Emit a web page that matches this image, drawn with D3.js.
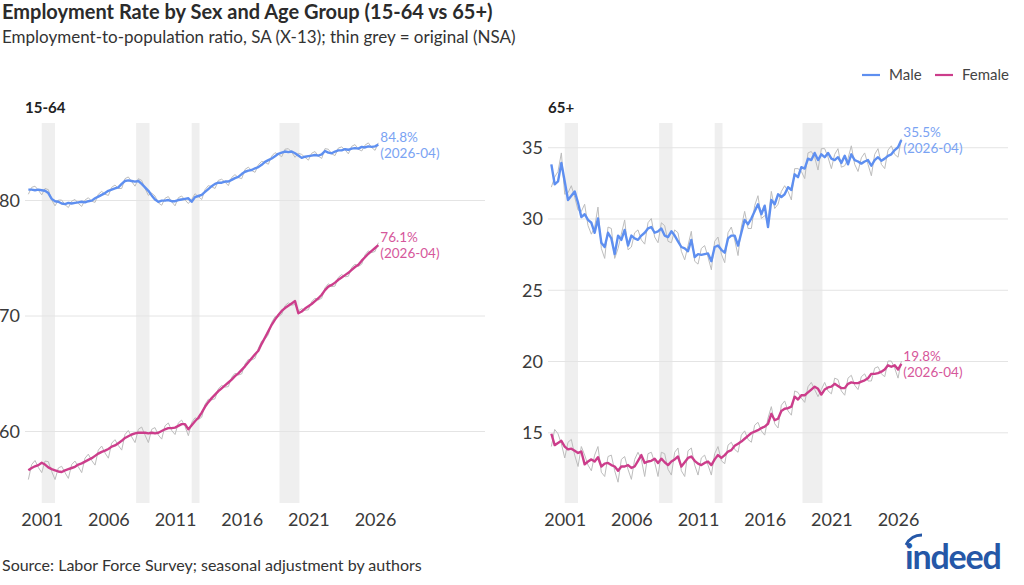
<!DOCTYPE html>
<html>
<head>
<meta charset="utf-8">
<script src="https://cdn.jsdelivr.net/npm/d3@7"></script>
<style>
  body { margin: 0; background: #fff; }
  svg text { font-family: Lato, "Open Sans", sans-serif; }
  .grid line { stroke: #e4e4e4; }
  .axis text { fill: #3a3a3a; font-size: 18px; }
</style>
</head>
<body>
<div class="chart-container"></div>
<script>
// quarterly samples, 2000-01 .. 2026-04
const start_month = '2000-01';
const n_points = 106;

// 15-64
const male_1564_sa = [
  80.9, 80.9, 80.85, 80.9, 80.85, 80.8, 80.6, 80.1, 79.9, 79.85, 79.7, 79.65,
  79.75, 79.7, 79.75, 79.8, 79.85, 79.8, 79.9, 79.95, 80.15, 80.3, 80.45, 80.6,
  80.8, 80.9, 81.0, 81.1, 81.4, 81.65, 81.7, 81.65, 81.6, 81.65, 81.4, 81.1,
  80.8, 80.4, 80.05, 79.85, 79.95, 79.95, 80.0, 79.9, 79.9, 80.0, 80.05, 80.1,
  80.15, 79.85, 80.25, 80.35, 80.45, 80.7, 80.95, 81.2, 81.4, 81.5, 81.5, 81.6,
  81.6, 81.75, 81.9, 82.0, 82.25, 82.45, 82.55, 82.6, 82.75, 82.85, 83.05, 83.3,
  83.45, 83.6, 83.8, 84.0, 84.1, 84.2, 84.15, 84.2, 84.05, 83.85, 83.65, 83.75,
  83.8, 83.85, 83.9, 83.85, 83.95, 84.25, 84.1, 84.05, 84.2, 84.3, 84.3, 84.4,
  84.35, 84.45, 84.5, 84.45, 84.6, 84.55, 84.65, 84.6, 84.65, 84.8
];
const male_1564_nsa = [
  80.5, 81.1, 81.2, 80.85, 80.45, 81.0, 80.9, 80.0, 79.5, 80.0, 80.0, 79.6,
  79.35, 79.9, 80.05, 79.7, 79.45, 80.0, 80.2, 79.9, 79.8, 80.5, 80.75, 80.5,
  80.4, 81.1, 81.3, 81.0, 81.0, 81.85, 82.0, 81.6, 81.2, 81.85, 81.7, 81.0,
  80.4, 80.6, 80.35, 79.75, 79.55, 80.15, 80.3, 79.85, 79.5, 80.2, 80.35, 80.0,
  79.7, 80.05, 80.55, 80.3, 80.05, 80.9, 81.25, 81.15, 81.0, 81.7, 81.8, 81.55,
  81.25, 81.95, 82.2, 81.95, 81.85, 82.65, 82.85, 82.55, 82.4, 83.05, 83.35, 83.25,
  83.1, 83.8, 84.1, 83.95, 83.75, 84.4, 84.45, 84.15, 83.7, 84.05, 83.95, 83.7,
  83.45, 84.05, 84.2, 83.8, 83.6, 84.45, 84.4, 84.0, 83.85, 84.5, 84.6, 84.35,
  84.0, 84.65, 84.8, 84.4, 84.25, 84.75, 84.95, 84.55, 84.3, 84.95
];
const female_1564_sa = [
  56.6, 56.8, 56.95, 57.05, 57.25, 57.1, 56.85, 56.7, 56.6, 56.5, 56.45, 56.6,
  56.7, 56.8, 56.9, 57.1, 57.2, 57.35, 57.5, 57.65, 57.85, 58.05, 58.2, 58.3,
  58.45, 58.65, 58.75, 58.95, 59.15, 59.4, 59.55, 59.7, 59.8, 59.85, 59.85, 59.85,
  59.8, 59.85, 59.8, 59.85, 60.0, 60.15, 60.25, 60.25, 60.3, 60.45, 60.6, 60.6,
  60.15, 60.5, 60.85, 61.15, 61.6, 62.1, 62.5, 62.85, 63.15, 63.45, 63.7, 63.95,
  64.2, 64.45, 64.75, 65.0, 65.3, 65.6, 65.95, 66.3, 66.65, 66.95, 67.55, 68.1,
  68.65, 69.2, 69.65, 70.05, 70.4, 70.65, 70.85, 71.05, 71.25, 70.2, 70.35, 70.6,
  70.8, 71.0, 71.25, 71.5, 71.8, 72.2, 72.5, 72.65, 72.85, 73.1, 73.3, 73.5,
  73.7, 73.95, 74.2, 74.4, 74.75, 75.05, 75.35, 75.6, 75.85, 76.1
];
const female_1564_nsa = [
  55.8, 57.1, 57.45, 56.85, 56.4, 57.4, 57.35, 56.5, 55.8, 56.8, 56.95, 56.4,
  55.9, 57.1, 57.4, 56.9, 56.4, 57.65, 58.0, 57.45, 57.05, 58.35, 58.7, 58.1,
  57.65, 58.95, 59.25, 58.75, 58.35, 59.7, 60.05, 59.5, 59.0, 60.15, 60.35, 59.65,
  59.0, 60.15, 60.3, 59.65, 59.3, 60.45, 60.7, 60.05, 59.7, 60.7, 60.95, 60.4,
  59.6, 60.75, 61.15, 61.0, 61.2, 62.3, 62.75, 62.7, 62.8, 63.65, 63.95, 63.8,
  63.85, 64.65, 65.0, 64.85, 64.95, 65.8, 66.2, 66.15, 66.3, 67.15, 67.8, 67.95,
  68.35, 69.4, 69.9, 69.9, 70.1, 70.85, 71.1, 70.9, 70.95, 70.4, 70.6, 70.45,
  70.5, 71.2, 71.5, 71.35, 71.5, 72.4, 72.75, 72.5, 72.55, 73.3, 73.55, 73.35,
  73.4, 74.15, 74.45, 74.25, 74.45, 75.25, 75.6, 75.45, 75.55, 76.3
];

// 65+
const male_65_sa = [
  33.8, 32.4, 32.6, 33.9, 32.6, 31.3, 31.6, 31.9, 31.1, 30.1, 30.3, 29.9,
  29.7, 29.0, 30.0, 28.3, 28.0, 29.0, 28.6, 27.5, 28.8, 28.5, 29.2, 28.1,
  28.8, 28.6, 28.5, 28.8, 29.0, 29.3, 29.4, 29.0, 29.1, 29.3, 28.8, 28.7,
  29.1, 28.8, 28.4, 28.0, 27.9, 27.7, 28.5, 27.3, 27.5, 27.45, 27.5, 27.55,
  27.0, 28.0, 28.1, 27.8, 27.6, 28.6, 28.8, 28.8, 28.1, 29.0, 29.9, 29.6,
  30.0, 30.5, 31.0, 30.3, 30.9, 29.4, 31.3, 31.0, 31.7, 31.5, 31.7, 32.2,
  32.0, 33.1, 32.9, 33.6, 33.5, 34.2, 34.1, 34.6, 34.1, 34.5, 34.3, 34.6,
  34.2, 34.1, 34.3, 33.9, 34.4, 33.8, 34.5, 34.1, 34.0, 33.85, 34.0, 34.1,
  33.7, 34.1, 34.3, 34.05, 34.2, 34.4, 34.5, 34.8, 35.0, 35.5
];
const male_65_nsa = [
  32.2, 32.9, 33.3, 34.6, 31.7, 31.8, 32.3, 31.5, 30.6, 30.5, 31.0, 29.5,
  28.9, 29.4, 30.8, 27.9, 27.2, 29.4, 29.3, 27.2, 27.9, 28.9, 29.9, 27.8,
  28.0, 29.0, 29.2, 28.5, 28.2, 29.7, 30.0, 28.7, 28.3, 29.7, 29.5, 28.4,
  28.3, 29.2, 29.0, 27.7, 27.1, 28.1, 29.1, 27.0, 26.8, 27.9, 28.1, 27.3,
  26.4, 28.4, 28.7, 27.5, 26.9, 29.0, 29.4, 28.5, 27.4, 29.4, 30.5, 29.3,
  29.3, 30.9, 31.6, 30.0, 30.2, 29.8, 31.9, 30.7, 31.0, 31.9, 32.3, 31.9,
  31.3, 33.5, 33.5, 33.3, 32.8, 34.6, 34.7, 34.3, 33.4, 34.9, 34.9, 34.3,
  33.5, 34.5, 34.9, 33.6, 33.7, 34.2, 35.1, 33.8, 33.3, 34.25, 34.6, 33.8,
  33.0, 34.5, 34.9, 33.8, 33.5, 34.8, 35.1, 34.5, 34.3, 35.6
];
const female_65_sa = [
  14.9, 14.1, 14.25, 14.4, 14.0, 13.8, 13.85, 13.7, 13.55, 13.65, 12.75, 12.95,
  13.1, 12.95, 13.25, 12.6, 12.8, 12.85, 12.7, 12.6, 12.3, 12.6, 12.6, 12.7,
  12.5, 12.6, 13.0, 13.4, 12.85, 12.95, 13.0, 13.15, 12.85, 13.15, 12.9, 12.7,
  12.95, 13.1, 13.3, 12.6, 12.9, 13.2, 13.3, 13.0, 12.8, 12.7, 12.85, 12.95,
  12.7, 13.1, 13.4, 13.2, 13.4, 13.65, 13.75, 14.05, 14.2, 14.35, 14.55, 14.75,
  14.95, 15.05, 15.15, 15.3, 15.4, 15.6, 16.3, 15.85, 15.95, 16.5, 16.65, 16.7,
  16.8, 17.5, 17.3, 17.6, 17.6, 17.8, 18.0, 18.2, 18.05, 17.65, 18.0, 18.15,
  18.2, 18.4, 18.25, 18.1, 18.1, 18.4, 18.5, 18.45, 18.45, 18.55, 18.65, 18.8,
  19.1, 19.1, 19.15, 19.25, 19.4, 19.7, 19.6, 19.7, 19.4, 19.8
];
const female_65_nsa = [
  14.0, 15.2, 14.9, 14.2, 13.2, 14.3, 14.5, 13.4, 12.6, 14.0, 13.4, 12.7,
  12.3, 13.4, 14.0, 12.2, 11.9, 13.3, 13.4, 12.3, 11.5, 13.1, 13.3, 12.4,
  11.7, 13.1, 13.6, 13.1, 11.9, 13.5, 13.6, 12.9, 11.9, 13.6, 13.5, 12.4,
  12.0, 13.6, 13.9, 12.3, 11.9, 13.7, 13.9, 12.7, 12.0, 13.2, 13.4, 12.7,
  12.0, 13.5, 14.0, 13.0, 12.8, 14.1, 14.3, 13.8, 13.6, 14.8, 15.1, 14.5,
  14.3, 15.5, 15.7, 15.1, 14.8, 16.0, 16.8, 15.6, 15.3, 16.9, 17.2, 16.5,
  16.2, 17.9, 17.8, 17.4, 17.1, 18.2, 18.5, 18.0, 17.5, 18.0, 18.5, 17.9,
  17.7, 18.8, 18.7, 17.9, 17.6, 18.8, 19.0, 18.3, 18.0, 18.9, 19.1, 18.6,
  18.6, 19.5, 19.6, 19.1, 18.9, 20.0, 20.0, 19.5, 18.8, 20.0
];

// shaded periods
const band_starts = ['2001-01', '2008-02', '2012-04', '2018-11'];
const band_ends   = ['2002-01', '2009-02', '2012-11', '2020-05'];

const x_ticks = [2001, 2006, 2011, 2016, 2021, 2026];
const y_ticks_1564 = [60, 70, 80];
const y_ticks_65 = [15, 20, 25, 30, 35];
const last_label = '(2026-04)';

const colors = {male: '#5e8ff0', female: '#cc3d8b', male_lbl: '#7aa3f3', female_lbl: '#d6579b', nsa: '#bdbdbd'};

const parse_month = d3.timeParse('%Y-%m');
const first = parse_month(start_month);
const dates = d3.range(n_points).map(i => d3.timeMonth.offset(first, i * 3));
const bands = band_starts.map((s, i) => [parse_month(s), parse_month(band_ends[i])]);

const svg = d3.select('.chart-container').append('svg')
    .attr('width', 1024).attr('height', 585);

// header
svg.append('text').attr('x', 2).attr('y', 19)
    .style('font-size', '20px').style('font-weight', 700).style('fill', '#2b2b2b')
    .text('Employment Rate by Sex and Age Group (15-64 vs 65+)');
svg.append('text').attr('x', 2).attr('y', 43)
    .style('font-size', '17px').style('fill', '#333')
    .text('Employment-to-population ratio, SA (X-13); thin grey = original (NSA)');

// legend
const legend = svg.append('g').attr('transform', 'translate(862,75)');
[['Male', colors.male, 0], ['Female', colors.female, 73]].forEach(([name, c, dx]) => {
  legend.append('line').attr('x1', dx).attr('x2', dx + 18).attr('y1', 0).attr('y2', 0)
      .attr('stroke', c).attr('stroke-width', 2.2);
  legend.append('text').attr('x', dx + 27).attr('y', 5)
      .style('font-size', '15px').style('fill', '#444').text(name);
});

function draw_panel(cfg) {
  const x = d3.scaleTime()
      .domain([new Date(1999, 9, 1), new Date(2034, 3, 1)])
      .range([cfg.left, cfg.left + 460]);
  const y = d3.scaleLinear().domain(cfg.y_domain).range([503, 123]);
  const g = svg.append('g');

  g.append('text').attr('x', cfg.left).attr('y', 113)
      .style('font-size', '15px').style('font-weight', 700).style('fill', '#222')
      .text(cfg.title);

  g.selectAll('.band').data(bands).enter().append('rect')
      .attr('class', 'band')
      .attr('x', d => x(d[0])).attr('width', d => x(d[1]) - x(d[0]))
      .attr('y', 123).attr('height', 380)
      .attr('fill', '#efefef');

  const y_axis = d3.axisLeft(y).tickValues(cfg.y_ticks)
      .tickSize(-460).tickPadding(5);
  const ya = g.append('g').attr('class', 'axis grid')
      .attr('transform', `translate(${cfg.left},0)`).call(y_axis);
  ya.select('.domain').remove();
  ya.selectAll('text').attr('dy', '0.35em');

  const x_axis = d3.axisBottom(x)
      .tickValues(x_ticks.map(yr => new Date(yr, 0, 1)))
      .tickFormat(d3.timeFormat('%Y')).tickSize(0).tickPadding(10);
  const xa = g.append('g').attr('class', 'axis')
      .attr('transform', 'translate(0,503)').call(x_axis);
  xa.select('.domain').remove();

  const line = d3.line().x((d, i) => x(dates[i])).y(d => y(d));

  cfg.series.forEach(s => {
    g.append('path').datum(s.nsa).attr('d', line)
        .attr('fill', 'none').attr('stroke', colors.nsa).attr('stroke-width', 1);
  });
  cfg.series.forEach(s => {
    g.append('path').datum(s.sa).attr('d', line)
        .attr('fill', 'none').attr('stroke', s.color).attr('stroke-width', 2.4)
        .attr('stroke-linejoin', 'round');
    const last = s.sa[s.sa.length - 1];
    const lx = x(dates[dates.length - 1]) + 2;
    const ly = y(last);
    g.append('text').attr('x', lx).attr('y', ly - 3)
        .style('font-size', '13.5px').style('fill', s.label_color)
        .text(d3.format('.1f')(last) + '%');
    g.append('text').attr('x', lx).attr('y', ly + 13)
        .style('font-size', '13.5px').style('fill', s.label_color)
        .text(last_label);
  });
}

draw_panel({
  title: '15-64', left: 25, y_domain: [53.77, 86.67], y_ticks: y_ticks_1564,
  series: [
    {sa: male_1564_sa, nsa: male_1564_nsa, color: colors.male, label_color: colors.male_lbl},
    {sa: female_1564_sa, nsa: female_1564_nsa, color: colors.female, label_color: colors.female_lbl}
  ]
});
draw_panel({
  title: '65+', left: 548, y_domain: [10.04, 36.7], y_ticks: y_ticks_65,
  series: [
    {sa: male_65_sa, nsa: male_65_nsa, color: colors.male, label_color: colors.male_lbl},
    {sa: female_65_sa, nsa: female_65_nsa, color: colors.female, label_color: colors.female_lbl}
  ]
});

// footer
svg.append('text').attr('x', 2).attr('y', 571)
    .style('font-size', '16px').style('fill', '#333')
    .text('Source: Labor Force Survey; seasonal adjustment by authors');
const logo = svg.append('g').attr('transform', 'translate(905,569)');
logo.append('text').attr('x', 0).attr('y', 0)
    .style('font-size', '34px').style('font-weight', 700).style('letter-spacing', '-1.2px')
    .style('fill', '#2557a7').text('indeed');
logo.append('path').attr('d', 'M1,-24 Q6,-34 17,-34')
    .attr('fill', 'none').attr('stroke', '#2557a7').attr('stroke-width', 2.8);
</script>
</body>
</html>
